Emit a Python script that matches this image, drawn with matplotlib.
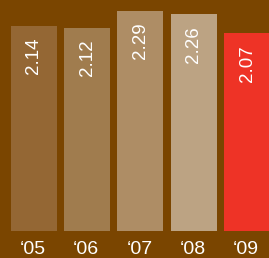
import matplotlib
matplotlib.use("Agg")
import matplotlib.pyplot as plt

years = ["\u201805", "\u201806", "\u201807", "\u201808", "\u201809"]
values = [2.14, 2.12, 2.29, 2.26, 2.07]
colors = ["#946734", "#a07c4e", "#ae8d65", "#bca383", "#ee3326"]
bg = "#7a4500"

W, H = 269, 258
fig = plt.figure(figsize=(W / 100, H / 100), dpi=100)
fig.patch.set_facecolor(bg)
ax = fig.add_axes([0, 27 / H, 1, 231 / H])
ax.set_facecolor(bg)

x = list(range(len(values)))
ax.bar(x, values, width=0.864, color=colors, bottom=0)
ax.set_xlim(-0.638, 4.413)
ax.set_ylim(0.09, 2.40)

for xi, v in zip(x, values):
    ax.annotate(f"{v:.2f}", (xi, v), xytext=(0, -8.5), textcoords="offset points",
                rotation=90, ha="center", va="top", color="white",
                fontsize=13.5, family="Liberation Sans")

for xi, lab in zip(x, years):
    ax.annotate(lab, (xi, 0.09), xytext=(-0.8, -13.2), textcoords="offset points",
                ha="center", va="center", color="white", fontsize=14,
                family="Liberation Sans", annotation_clip=False)

for s in ax.spines.values():
    s.set_visible(False)
ax.set_xticks([])
ax.set_yticks([])

fig.savefig("out.png", dpi=100, facecolor=bg)
